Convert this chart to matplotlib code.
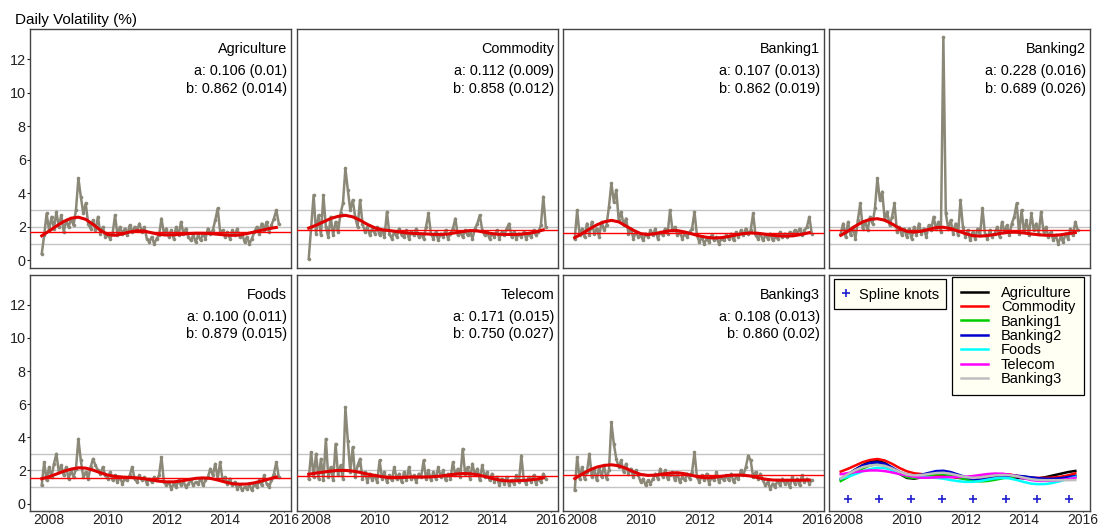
import numpy as np
import matplotlib
matplotlib.use('Agg')
import matplotlib.pyplot as plt

plt.rcParams['font.family'] = ['Liberation Sans', 'DejaVu Sans']

# panel names and GARCH estimates
sectors = ['Agriculture', 'Commodity', 'Banking1', 'Banking2', 'Foods', 'Telecom', 'Banking3']
a_text = ['a: 0.106 (0.01)', 'a: 0.112 (0.009)', 'a: 0.107 (0.013)', 'a: 0.228 (0.016)',
          'a: 0.100 (0.011)', 'a: 0.171 (0.015)', 'a: 0.108 (0.013)']
b_text = ['b: 0.862 (0.014)', 'b: 0.858 (0.012)', 'b: 0.862 (0.019)', 'b: 0.689 (0.026)',
          'b: 0.879 (0.015)', 'b: 0.750 (0.027)', 'b: 0.860 (0.02)']
mean_level = [1.69, 1.84, 1.66, 1.79, 1.55, 1.65, 1.75]

# volatility, one value per month from 2007.75
vol_x = 2007.75 + np.arange(98) / 12
agriculture_vol = [0.4, 1.5, 2.8,
    1.8, 2.6, 1.9, 2.9, 2.0, 2.7, 1.7, 2.4, 2.0, 2.5, 2.1, 3.0,
    4.9, 3.8, 2.8, 3.4, 2.2, 1.9, 2.4, 1.8, 2.6, 1.6, 2.0, 1.4,
    1.5, 1.3, 1.6, 2.7, 1.5, 2.0, 1.6, 1.9, 1.5, 2.1, 1.7, 2.0,
    1.8, 2.2, 1.7, 2.0, 1.3, 1.1, 1.4, 1.0, 1.3, 1.5, 2.5, 1.6,
    1.9, 1.4, 1.8, 1.3, 2.0, 1.5, 2.3, 1.6, 1.9, 1.4, 1.2, 1.5,
    1.1, 1.5, 1.2, 1.6, 1.3, 1.9, 1.6, 1.8, 2.4, 3.1, 1.7, 1.8,
    1.4, 1.7, 1.3, 1.8, 1.5, 1.9, 1.4, 1.6, 1.1, 1.4, 1.0, 1.3,
    1.7, 2.0, 1.6, 2.2, 1.8, 2.3, 1.7, 2.1, 2.5, 3.0, 2.2]
commodity_vol = [0.1, 2.0, 3.9,
    1.6, 2.7, 1.5, 3.9, 2.0, 1.4, 2.6, 1.5, 2.3, 1.7, 2.8, 3.4,
    5.5, 4.2, 3.0, 3.6, 2.6, 2.0, 3.6, 2.2, 1.7, 2.0, 1.5, 1.9,
    1.6, 2.0, 1.5, 1.8, 1.4, 2.9, 1.6, 1.3, 1.7, 1.4, 1.9, 1.5,
    1.4, 1.8, 1.3, 1.7, 1.5, 1.9, 1.4, 1.6, 1.3, 2.0, 2.8, 1.6,
    1.3, 1.7, 1.2, 1.6, 1.4, 1.8, 1.3, 1.6, 1.9, 2.5, 1.5, 1.7,
    1.4, 1.8, 1.5, 1.7, 1.3, 1.9, 2.2, 2.7, 1.8, 1.5, 1.7, 1.3,
    1.6, 1.4, 1.8, 1.3, 1.7, 1.5, 1.9, 2.2, 1.4, 1.7, 1.3, 1.6,
    1.4, 1.7, 1.3, 1.6, 1.4, 1.8, 1.5, 1.7, 2.1, 3.8, 2.0]
banking1_vol = [1.3, 3.0, 1.5,
    1.9, 1.4, 2.2, 1.5, 2.3, 1.6, 1.9, 1.4, 2.3, 1.8, 2.1, 3.2,
    4.6, 3.5, 4.2, 2.4, 2.9, 2.1, 2.5, 1.6, 1.9, 1.3, 1.7, 1.4,
    1.5, 1.2, 1.6, 1.4, 1.8, 1.5, 1.9, 1.3, 1.7, 1.5, 1.9, 1.6,
    3.0, 1.8, 2.0, 1.5, 1.7, 1.3, 1.6, 1.4, 1.7, 1.9, 2.9, 1.5,
    1.1, 1.4, 1.0, 1.3, 1.1, 1.5, 1.2, 1.4, 1.0, 1.3, 1.2, 1.5,
    1.3, 1.6, 1.2, 1.7, 1.4, 1.8, 1.5, 1.9, 1.6, 1.8, 2.8, 1.5,
    1.3, 1.6, 1.2, 1.5, 1.3, 1.6, 1.2, 1.4, 1.3, 1.7, 1.4, 1.6,
    1.4, 1.7, 1.5, 1.8, 1.6, 1.9, 1.5, 1.8, 2.0, 2.6, 1.6]
banking2_vol = [1.6, 2.2, 1.4,
    2.3, 1.5, 2.0, 1.3, 2.4, 3.4, 1.9, 2.3, 1.8, 2.6, 2.2, 3.1,
    4.9, 3.6, 4.1, 2.4, 2.9, 2.1, 2.6, 3.4, 1.7, 2.0, 1.5, 1.9,
    1.4, 1.9, 1.3, 2.0, 1.5, 2.2, 1.6, 1.9, 1.4, 2.1, 1.8, 2.6,
    1.9, 2.3, 1.7, 13.3, 2.8, 1.9, 2.4, 1.6, 2.2, 1.5, 3.6, 2.0,
    1.4, 1.8, 1.2, 1.7, 1.3, 1.9, 1.5, 3.1, 1.6, 1.3, 1.8, 1.4,
    1.6, 2.0, 1.4, 2.3, 1.7, 2.1, 1.5, 2.2, 2.6, 3.4, 1.6, 3.0,
    1.7, 2.4, 1.5, 2.8, 1.8, 2.2, 1.6, 2.9, 1.7, 2.0, 1.4, 1.7,
    1.2, 1.5, 1.0, 1.4, 1.1, 1.6, 1.3, 1.9, 1.5, 2.3, 1.8]
foods_vol = [1.1, 2.5, 1.4,
    2.2, 1.6, 2.4, 3.0, 1.9, 2.3, 1.7, 2.2, 1.5, 2.0, 1.6, 2.1,
    3.9, 2.6, 1.6, 1.9, 1.5, 2.2, 2.7, 2.3, 2.0, 1.8, 2.2, 1.7,
    1.5, 1.9, 1.4, 1.7, 1.3, 1.6, 1.2, 1.5, 1.4, 1.7, 2.2, 1.5,
    1.3, 1.7, 1.4, 1.6, 1.2, 1.5, 1.3, 1.6, 1.4, 1.7, 2.8, 1.3,
    1.1, 1.3, 0.9, 1.2, 1.0, 1.4, 1.1, 1.3, 1.0, 1.2, 1.4, 1.1,
    1.3, 1.2, 1.5, 1.1, 1.4, 1.6, 2.1, 1.7, 2.4, 1.5, 2.5, 1.4,
    1.6, 1.2, 1.5, 1.1, 1.3, 0.9, 1.1, 0.8, 1.0, 0.9, 1.1, 0.8,
    1.2, 1.0, 1.4, 1.1, 1.7, 1.2, 1.0, 1.4, 1.8, 2.5, 1.6]
telecom_vol = [1.5, 3.1, 1.6,
    3.0, 1.5, 2.7, 1.4, 3.9, 1.6, 2.2, 1.4, 3.6, 1.7, 2.3, 1.5,
    5.8, 3.8, 1.9, 3.4, 1.6, 2.3, 2.7, 1.5, 1.9, 1.3, 1.8, 1.4,
    1.7, 1.3, 2.6, 1.5, 1.9, 1.3, 1.7, 1.4, 2.2, 1.5, 1.8, 1.3,
    1.9, 1.4, 2.2, 1.5, 1.7, 1.3, 1.8, 1.6, 2.6, 1.5, 2.0, 1.4,
    1.9, 1.5, 2.2, 1.6, 2.0, 1.4, 1.8, 1.5, 2.5, 1.7, 2.1, 1.6,
    3.3, 1.8, 2.2, 1.5, 2.4, 1.7, 2.1, 1.4, 2.3, 1.6, 1.9, 1.4,
    1.8, 1.3, 1.6, 1.1, 1.5, 1.2, 1.6, 1.1, 1.4, 1.2, 1.7, 1.3,
    2.9, 1.4, 1.2, 1.6, 1.3, 1.7, 1.2, 1.5, 1.3, 1.8, 1.5]
banking3_vol = [0.8, 2.8, 1.5,
    2.2, 1.5, 1.9, 3.0, 1.6, 2.1, 1.4, 2.2, 1.6, 2.3, 1.5, 2.0,
    4.9, 3.6, 2.7, 2.2, 2.6, 1.9, 2.4, 1.8, 2.1, 1.6, 2.0, 1.7,
    1.3, 1.5, 1.1, 1.4, 1.2, 1.5, 1.8, 1.5, 2.1, 1.6, 2.0, 1.5,
    1.7, 1.9, 1.4, 1.8, 1.3, 1.6, 1.4, 1.8, 1.5, 1.9, 3.1, 1.6,
    1.3, 1.7, 1.4, 1.8, 1.2, 1.6, 1.4, 1.9, 1.3, 1.6, 1.4, 1.7,
    1.4, 1.8, 1.3, 1.6, 1.5, 2.0, 1.7, 2.2, 2.9, 2.6, 1.6, 1.9,
    1.5, 1.8, 1.4, 1.1, 1.3, 0.9, 1.2, 1.0, 1.4, 1.1, 1.5, 1.2,
    1.4, 1.0, 1.6, 1.2, 1.5, 1.1, 1.7, 1.3, 1.5, 1.2, 1.4]

# spline fits, quarterly from 2007.75
fit_x = 2007.75 + 0.25 * np.arange(33)
agriculture_fit = [1.47, 1.75, 2.05, 2.32, 2.52, 2.58, 2.45, 2.15, 1.8, 1.55, 1.5, 1.58, 1.7,
                   1.77, 1.75, 1.65, 1.55, 1.52, 1.53, 1.56, 1.6, 1.62, 1.62, 1.6, 1.56, 1.52,
                   1.5, 1.52, 1.6, 1.7, 1.8, 1.9, 1.97]
commodity_fit = [1.93, 2.1, 2.3, 2.5, 2.63, 2.69, 2.6, 2.4, 2.15, 1.95, 1.83, 1.78, 1.72,
                 1.66, 1.62, 1.6, 1.58, 1.56, 1.55, 1.58, 1.65, 1.72, 1.78, 1.76, 1.68, 1.6,
                 1.56, 1.55, 1.55, 1.57, 1.62, 1.7, 1.82]
banking1_fit = [1.36, 1.6, 1.87, 2.12, 2.3, 2.39, 2.3, 2.05, 1.8, 1.6, 1.54, 1.6, 1.7,
                1.77, 1.78, 1.7, 1.58, 1.46, 1.38, 1.34, 1.36, 1.43, 1.52, 1.6, 1.64, 1.62,
                1.56, 1.5, 1.46, 1.45, 1.48, 1.56, 1.66]
banking2_fit = [1.5, 1.75, 2.05, 2.3, 2.45, 2.49, 2.4, 2.18, 1.92, 1.74, 1.69, 1.74, 1.85,
                1.96, 1.98, 1.9, 1.75, 1.6, 1.48, 1.45, 1.48, 1.55, 1.63, 1.68, 1.68, 1.64,
                1.58, 1.53, 1.5, 1.5, 1.53, 1.6, 1.66]
foods_fit = [1.5, 1.62, 1.78, 1.95, 2.08, 2.16, 2.14, 2.02, 1.86, 1.72, 1.64, 1.6, 1.58,
             1.55, 1.5, 1.42, 1.35, 1.31, 1.31, 1.36, 1.44, 1.52, 1.55, 1.52, 1.42, 1.3,
             1.2, 1.17, 1.18, 1.25, 1.36, 1.48, 1.6]
telecom_fit = [1.77, 1.84, 1.9, 1.96, 2.0, 2.0, 1.96, 1.88, 1.78, 1.7, 1.62, 1.56, 1.56,
               1.58, 1.6, 1.6, 1.6, 1.62, 1.66, 1.72, 1.78, 1.81, 1.8, 1.74, 1.64, 1.52,
               1.42, 1.37, 1.37, 1.39, 1.42, 1.47, 1.55]
banking3_fit = [1.51, 1.78, 2.02, 2.2, 2.3, 2.34, 2.28, 2.12, 1.92, 1.76, 1.7, 1.72, 1.78,
                1.84, 1.86, 1.8, 1.7, 1.6, 1.55, 1.58, 1.64, 1.7, 1.72, 1.71, 1.66, 1.56,
                1.47, 1.42, 1.41, 1.41, 1.41, 1.41, 1.42]

knot_x = [2008.0, 2009.04, 2010.14, 2011.21, 2012.27, 2013.38, 2014.45, 2015.54]
knot_y = [0.3] * len(knot_x)

vols = [agriculture_vol, commodity_vol, banking1_vol, banking2_vol, foods_vol, telecom_vol, banking3_vol]
fits = [agriculture_fit, commodity_fit, banking1_fit, banking2_fit, foods_fit, telecom_fit, banking3_fit]
fit_colors = ['black', 'red', '#00cd00', '#0000cd', 'cyan', 'magenta', '#bebebe']

W, H = 1106, 529
fig = plt.figure(figsize=(W / 100, H / 100), dpi=100)

col_left = [30, 297, 563, 829]
row_top = [29, 275]
row_h = [239, 236]
pw = 261

axes = []
for r in range(2):
    for c in range(4):
        ax = fig.add_axes([col_left[c] / W, (H - row_top[r] - row_h[r]) / H, pw / W, row_h[r] / H])
        ax.set_xlim(2007.35, 2016.25)
        ax.set_ylim(-0.45, 13.8)
        ax.set_xticks([2008, 2010, 2012, 2014, 2016])
        ax.set_yticks([0, 2, 4, 6, 8, 10, 12])
        ax.tick_params(axis='y', length=2, width=0.8, pad=1, labelsize=10.4, colors='#222222')
        ax.tick_params(axis='x', length=1, width=0.8, pad=0.5, labelsize=10, colors='#222222')
        ax.tick_params(left=(c == 0), labelleft=(c == 0),
                       bottom=(r == 1), labelbottom=(r == 1))
        for s in ax.spines.values():
            s.set_color('#444444')
            s.set_linewidth(1.0)
        axes.append(ax)

for i, name in enumerate(sectors):
    ax = axes[i]
    for lv in [1, 2, 3]:
        ax.axhline(lv, color='#c4c4c4', lw=1.0, zorder=1)
    ax.plot(vol_x, vols[i], color='#8b8878', lw=1.8, marker='o', ms=2.6, mew=0, zorder=2)
    ax.axhline(mean_level[i], color='red', lw=1.0, zorder=3)
    ax.plot(fit_x, fits[i], color='#e00000', lw=2.2, zorder=4)
    ax.text(0.985, 0.915, name, transform=ax.transAxes, ha='right', va='center', fontsize=10.4)
    ax.text(0.985, 0.824, a_text[i], transform=ax.transAxes, ha='right', va='center', fontsize=10.4)
    ax.text(0.985, 0.748, b_text[i], transform=ax.transAxes, ha='right', va='center', fontsize=10.4)

# last panel: all spline fits together
ax = axes[7]
for i, name in enumerate(sectors):
    ax.plot(fit_x, fits[i], color=fit_colors[i], lw=1.8, label=name)
kn, = ax.plot(knot_x, knot_y, '+', color='#1f1fd0', ms=6, mew=1.2, ls='none')

leg = ax.legend(loc='upper right', bbox_to_anchor=(0.977, 0.992), borderaxespad=0,
                fontsize=10.5, labelspacing=0.03, handlelength=1.9, handletextpad=0.85,
                borderpad=0.6, fancybox=False, edgecolor='black', facecolor='#fffff4',
                framealpha=1)
leg.get_frame().set_linewidth(0.9)
ax.add_artist(leg)
leg2 = ax.legend([kn], ['Spline knots'], loc='upper left', bbox_to_anchor=(0.019, 0.983),
                 borderaxespad=0, fontsize=10.5, handlelength=0.7, handleheight=1.2,
                 handletextpad=0.5, borderpad=0.5, fancybox=False, edgecolor='black',
                 facecolor='#fffff4', framealpha=1)
leg2.get_frame().set_linewidth(0.9)

fig.text(15 / W, 1 - 20 / H, 'Daily Volatility (%)', ha='left', va='center', fontsize=11)

plt.savefig('out.png', dpi=100)
